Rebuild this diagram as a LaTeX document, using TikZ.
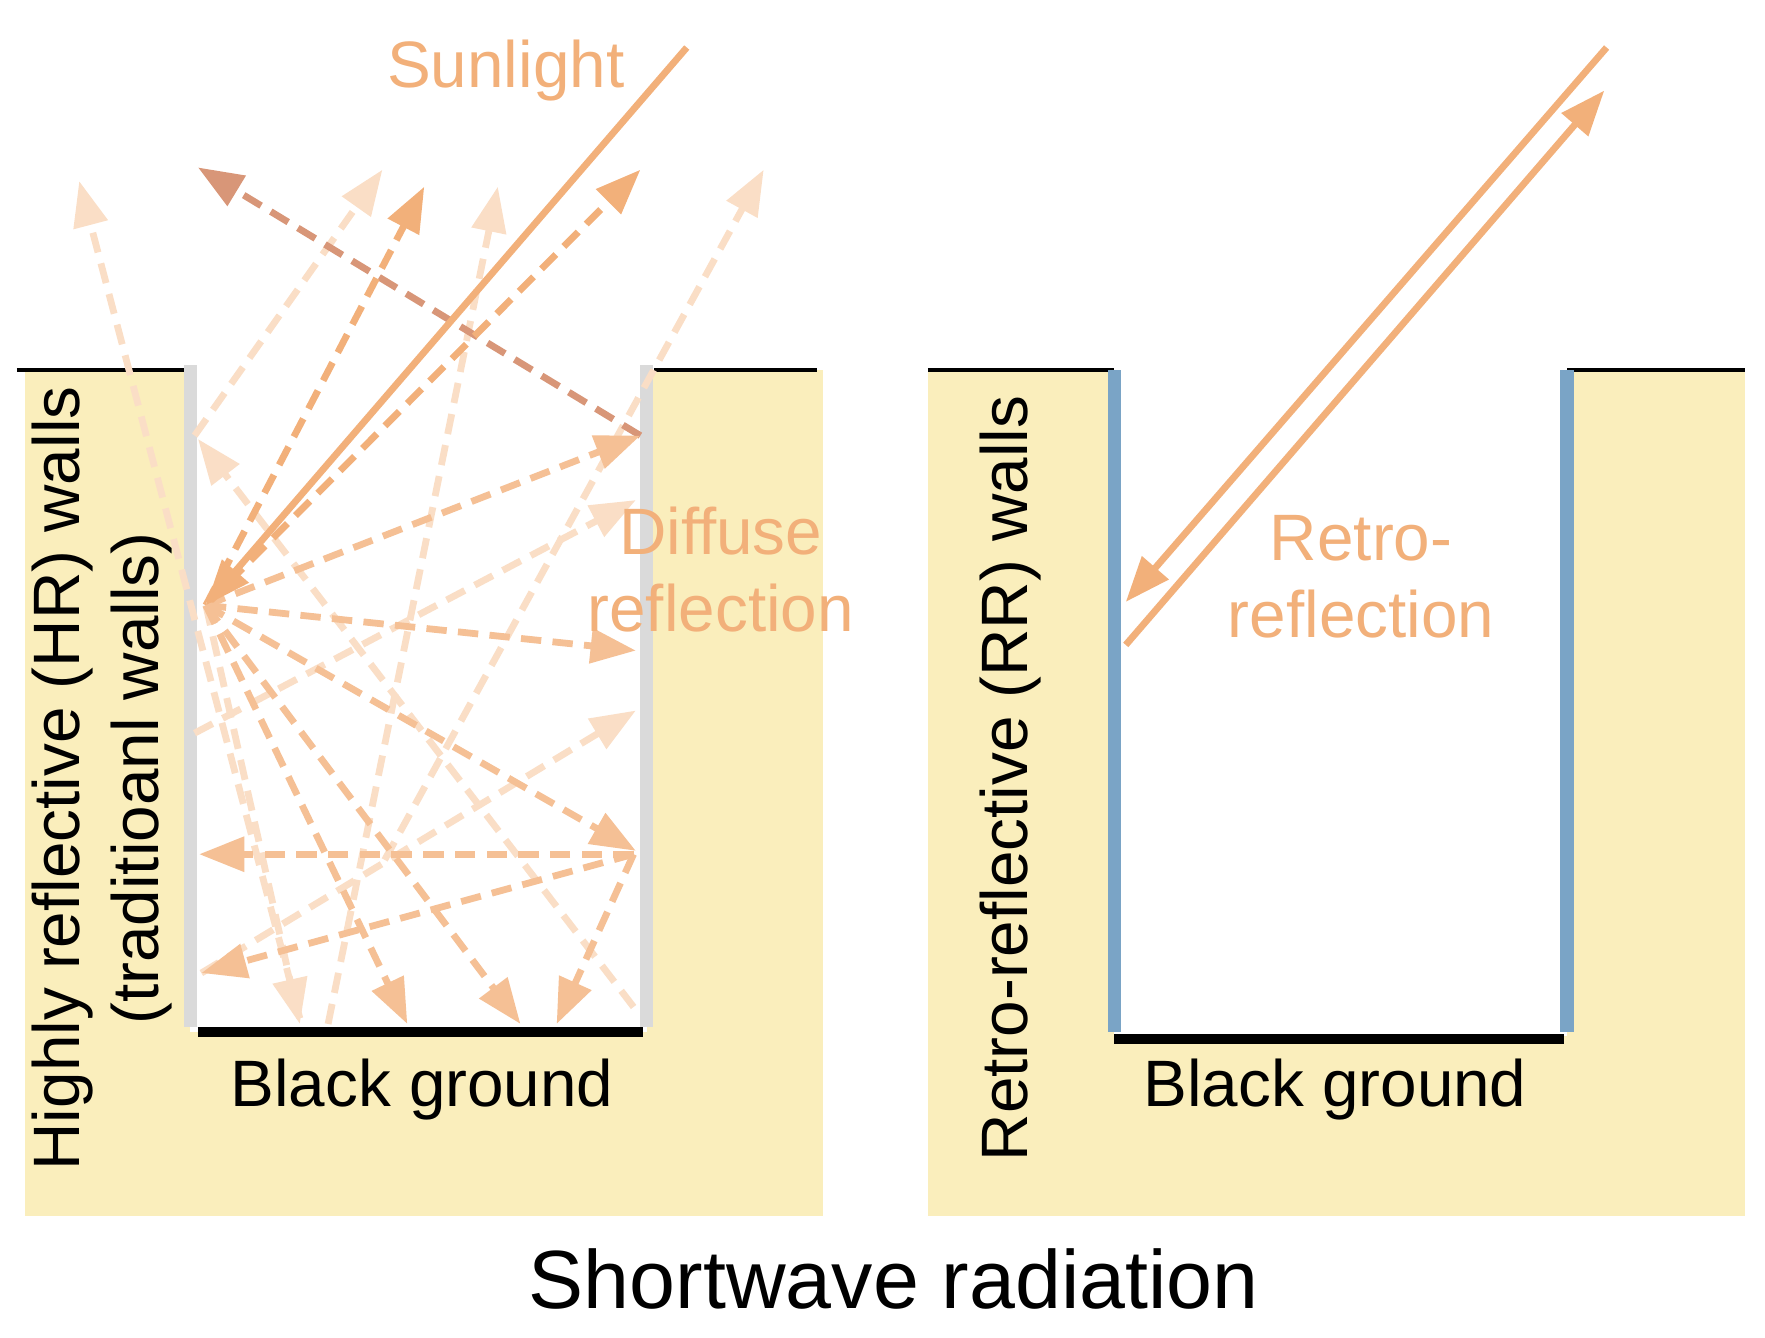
\documentclass[tikz,border=0pt]{standalone}
\usepackage{fontspec}
\setmainfont{Liberation Sans}
\usetikzlibrary{arrows.meta}
\definecolor{ylw}{RGB}{250,238,188}
\definecolor{org}{RGB}{242,176,122}
\definecolor{lorg}{RGB}{250,222,198}
\definecolor{dorg}{RGB}{216,150,120}
\definecolor{wallg}{RGB}{218,218,218}
\definecolor{wallb}{RGB}{122,164,198}
\tikzset{
 tip/.style={-{Triangle[length=40pt,width=30pt]}},
 ray/.style={tip,line width=6pt,dash pattern=on 18pt off 10pt},
 s1/.style={ray,draw=org},
 s2/.style={ray,draw=org!80!white},
 s3/.style={ray,draw=lorg},
 s4/.style={ray,draw=dorg},
 solid ray/.style={tip,line width=6pt,draw=org},
 lbl/.style={font=\fontsize{58}{68}\selectfont},
 olbl/.style={lbl,text=org},
}
\begin{document}
\begin{tikzpicture}[x=1pt,y=-1pt]
\useasboundingbox (0,0) rectangle (1560,1182);
% left panel
\fill[ylw] (22,327) rectangle (727,1075);
\fill[white] (168,327) rectangle (572,912);
\draw[line width=3pt] (15,327) -- (168,327) (578,327) -- (722,327);
\fill[wallg] (163,323) rectangle (174,908);
\fill[wallg] (566,323) rectangle (577,908);
\draw[line width=9pt] (175,912) -- (568,912);
% right panel
\fill[ylw] (820,327) rectangle (1542,1075);
\fill[white] (985,327) rectangle (1385,916);
\draw[line width=3pt] (820,327) -- (985,327) (1385,327) -- (1542,327);
\fill[wallb] (979,327) rectangle (991,912);
\fill[wallb] (1379,327) rectangle (1391,912);
\draw[line width=9pt] (985,918) -- (1382,918);
% nodes
\coordinate (P) at (182,535);
\coordinate (Q) at (560,755);
\coordinate (R) at (566,385);
% light rays
\draw[s3] (265,900) -- (70,160);
\draw[s3] (172,385) -- (338,150);
\draw[s3] (290,905) -- (440,165);
\draw[s3] (340,760) -- (675,150);
\draw[s3] (172,648) -- (562,442);
\draw[s3] (178,860) -- (562,628);
\draw[s3] (P) -- (265,905);
\draw[s3] (560,890) -- (175,388);
% medium rays
\draw[s4] (R) -- (175,148);
\draw[s2] (P) -- (R);
\draw[s1] (P) -- (375,165);
\draw[s1] (P) -- (566,150);
\draw[s2] (P) -- (562,575);
\draw[s2] (P) -- (562,752);
\draw[s2] (P) -- (360,905);
\draw[s2] (P) -- (460,905);
\draw[s2] (Q) -- (492,905);
\draw[s2] (Q) -- (176,755);
\draw[s2] (Q) -- (178,860);
% sunlight
\coordinate (S1) at (607,42);
\draw[solid ray] (S1) -- (P);
\coordinate (S2) at (1420,42);
\coordinate (S3) at (995,532);
\draw[solid ray] (S2) -- (S3);
\coordinate (S4) at (995,570);
\coordinate (S5) at (1418,80);
\draw[solid ray] (S4) -- (S5);
% texts
\node[olbl] (sun) at (447,62) {Sunlight};
\node[olbl,align=center] (dif) at (637,503) {Diffuse\\reflection};
\node[olbl,align=center] (ret) at (1203,510) {Retro-\\reflection};
\node[lbl] (bg1) at (373,963) {Black ground};
\node[lbl] (bg2) at (1180,963) {Black ground};
\node[lbl,rotate=90] (hr) at (55,688) {Highly reflective (HR) walls};
\node[lbl,rotate=90] (tr) at (125,688) {(traditioanl walls)};
\node[lbl,rotate=90] (rr) at (893,688) {Retro-reflective (RR) walls};
\node[font=\fontsize{73}{84}\selectfont] (sw) at (790,1130) {Shortwave radiation};
\end{tikzpicture}
\end{document}
